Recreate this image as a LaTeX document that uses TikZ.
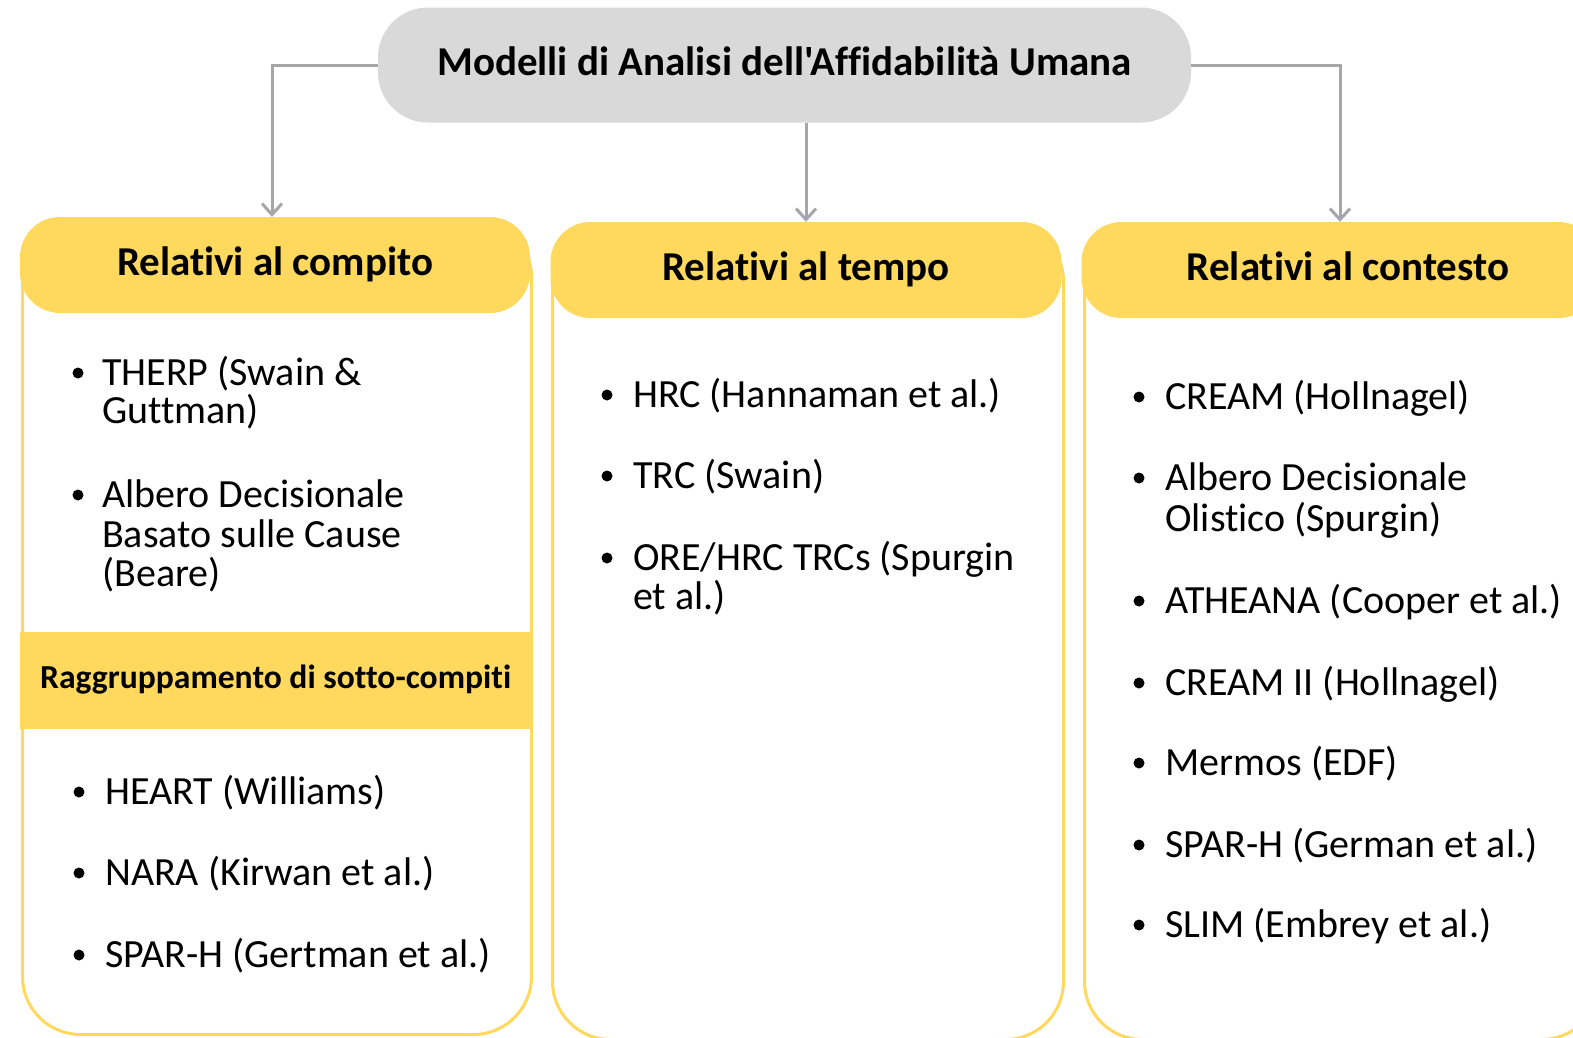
\documentclass[tikz,border=0pt]{standalone}
\usepackage{fontspec}
\newfontfamily\calfont{Carlito}[Ligatures=NoCommon]
\usetikzlibrary{arrows.meta}
\definecolor{gold}{HTML}{FFD95E}
\definecolor{titlegray}{HTML}{D9D9D9}
\definecolor{conngray}{HTML}{A6A6A6}
\begin{document}
\begin{tikzpicture}[x=1pt,y=-1pt,
  titlebox/.style={fill=titlegray, rounded corners=50pt, minimum width=813pt, minimum height=115pt, inner sep=0pt, text height=28pt, text depth=8pt, font=\calfont\bfseries\fontsize{41}{41}\selectfont},
  headbox/.style={fill=gold, rounded corners=40pt, minimum height=96pt, inner sep=0pt, text height=28pt, text depth=8pt, font=\calfont\bfseries\fontsize{41}{41}\selectfont},
  colframe/.style={draw=gold, line width=3pt, rounded corners=58pt, minimum height=816pt, inner sep=0pt, anchor=north west},
  subband/.style={fill=gold, minimum width=511pt, minimum height=97pt, inner sep=0pt, anchor=north west, text height=23pt, text depth=7pt, font=\calfont\bfseries\fontsize{33.6}{34}\selectfont},
  item/.style={anchor=base west, inner sep=0pt, font=\calfont\fontsize{40}{40}\selectfont},
  dot/.style={circle, fill=black, minimum size=11pt, inner sep=0pt},
  conn/.style={draw=conngray, line width=3pt, -{Straight Barb[length=11pt,width=20pt]}}
]
\clip (0,0) rectangle (1573,1037);
\fill[white] (0,0) rectangle (1573,1037);

% column frames
\node[colframe, minimum width=509pt] (f1) at (21,217) {};
\node[colframe, minimum width=511pt] (f2) at (551,222) {};
\node[colframe, minimum width=515pt] (f3) at (1083,222) {};

% title and headers
\node[titlebox] (title) at (784.5,65) {Modelli di Analisi dell'Affidabilità Umana};
\node[headbox, minimum width=510pt] (h1) at (275,265) {Relativi al compito};
\node[headbox, minimum width=511pt] (h2) at (806,270) {Relativi al tempo};
\node[headbox, minimum width=517pt] (h3) at (1340,270) {\hspace*{16pt}Relativi al contesto};

% sub band
\node[subband] (sb) at (20,632) {Raggruppamento di sotto-compiti};

% connectors
\draw[conn] (title.west) -| ([xshift=-3pt]h1.north);
\draw[conn] (title.south -| h2.north) -- (h2.north);
\draw[conn] (title.east) -| (h3.north);

% column 1, upper
\node[dot] (d11) at (78,373) {};
\node[item] (t11a) at (102,385) {THERP (Swain \&};
\node[item] (t11b) at (102,423) {Guttman)};
\node[dot] (d12) at (78,495) {};
\node[item] (t12a) at (102,507) {Albero Decisionale};
\node[item] (t12b) at (102,547) {Basato sulle Cause};
\node[item] (t12c) at (102,586) {(Beare)};

% column 1, lower
\node[dot] (d13) at (79,792) {};
\node[item] (t13) at (105,804) {HEART (Williams)};
\node[dot] (d14) at (79,873) {};
\node[item] (t14) at (105,885) {NARA (Kirwan et al.)};
\node[dot] (d15) at (79,955) {};
\node[item] (t15) at (105,967) {SPAR-H (Gertman et al.)};

% column 2
\node[dot] (d21) at (607,395) {};
\node[item] (t21) at (633,407) {HRC (Hannaman et al.)};
\node[dot] (d22) at (607,476) {};
\node[item] (t22) at (633,488) {TRC (Swain)};
\node[dot] (d23) at (607,558) {};
\node[item] (t23a) at (633,570) {ORE/HRC TRCs (Spurgin};
\node[item] (t23b) at (633,609) {et al.)};

% column 3
\node[dot] (d31) at (1139,397) {};
\node[item] (t31) at (1165,409) {CREAM (Hollnagel)};
\node[dot] (d32) at (1139,478) {};
\node[item] (t32a) at (1165,490) {Albero Decisionale};
\node[item] (t32b) at (1165,531) {Olistico (Spurgin)};
\node[dot] (d33) at (1139,601) {};
\node[item] (t33) at (1165,613) {ATHEANA (Cooper et al.)};
\node[dot] (d34) at (1139,683) {};
\node[item] (t34) at (1165,695) {CREAM II (Hollnagel)};
\node[dot] (d35) at (1139,763) {};
\node[item] (t35) at (1165,775) {Mermos (EDF)};
\node[dot] (d36) at (1139,845) {};
\node[item] (t36) at (1165,857) {SPAR-H (German et al.)};
\node[dot] (d37) at (1139,925) {};
\node[item] (t37) at (1165,937) {SLIM (Embrey et al.)};
\end{tikzpicture}
\end{document}
